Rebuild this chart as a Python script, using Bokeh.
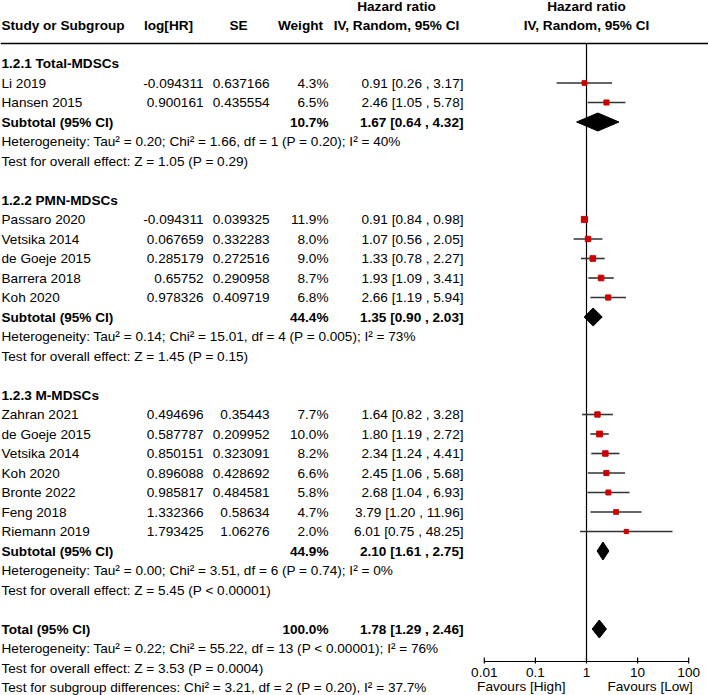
from bokeh.plotting import figure
from bokeh.models import Range1d, LogScale, ColumnDataSource
from bokeh.core.properties import value
from bokeh.embed import file_html
from bokeh.resources import INLINE

# ---------------- data ----------------
group_names = ["1.2.1 Total-MDSCs", "1.2.2 PMN-MDSCs", "1.2.3 M-MDSCs"]

g1_study = ["Li 2019", "Hansen 2015"]
g1_loghr = [-0.094311, 0.900161]
g1_se = [0.637166, 0.435554]
g1_weight = [4.3, 6.5]
g1_hr = [0.91, 2.46]
g1_lo = [0.26, 1.05]
g1_hi = [3.17, 5.78]

g2_study = ["Passaro 2020", "Vetsika 2014", "de Goeje 2015", "Barrera 2018", "Koh 2020"]
g2_loghr = [-0.094311, 0.067659, 0.285179, 0.65752, 0.978326]
g2_se = [0.039325, 0.332283, 0.272516, 0.290958, 0.409719]
g2_weight = [11.9, 8.0, 9.0, 8.7, 6.8]
g2_hr = [0.91, 1.07, 1.33, 1.93, 2.66]
g2_lo = [0.84, 0.56, 0.78, 1.09, 1.19]
g2_hi = [0.98, 2.05, 2.27, 3.41, 5.94]

g3_study = ["Zahran 2021", "de Goeje 2015", "Vetsika 2014", "Koh 2020",
            "Bronte 2022", "Feng 2018", "Riemann 2019"]
g3_loghr = [0.494696, 0.587787, 0.850151, 0.896088, 0.985817, 1.332366, 1.793425]
g3_se = [0.35443, 0.209952, 0.323091, 0.428692, 0.484581, 0.58634, 1.06276]
g3_weight = [7.7, 10.0, 8.2, 6.6, 5.8, 4.7, 2.0]
g3_hr = [1.64, 1.80, 2.34, 2.45, 2.68, 3.79, 6.01]
g3_lo = [0.82, 1.19, 1.24, 1.06, 1.04, 1.20, 0.75]
g3_hi = [3.28, 2.72, 4.41, 5.68, 6.93, 11.96, 48.25]

sub_weight = [10.7, 44.4, 44.9]
sub_hr = [1.67, 1.35, 2.10]
sub_lo = [0.64, 0.90, 1.61]
sub_hi = [4.32, 2.03, 2.75]
sub_het = [
    "Heterogeneity: Tau² = 0.20; Chi² = 1.66, df = 1 (P = 0.20); I² = 40%",
    "Heterogeneity: Tau² = 0.14; Chi² = 15.01, df = 4 (P = 0.005); I² = 73%",
    "Heterogeneity: Tau² = 0.00; Chi² = 3.51, df = 6 (P = 0.74); I² = 0%",
]
sub_test = [
    "Test for overall effect: Z = 1.05 (P = 0.29)",
    "Test for overall effect: Z = 1.45 (P = 0.15)",
    "Test for overall effect: Z = 5.45 (P < 0.00001)",
]

total_weight = 100.0
total_hr = 1.78
total_lo = 1.29
total_hi = 2.46
total_het = "Heterogeneity: Tau² = 0.22; Chi² = 55.22, df = 13 (P < 0.00001); I² = 76%"
total_test = "Test for overall effect: Z = 3.53 (P = 0.0004)"
subgroup_test = "Test for subgroup differences: Chi² = 3.21, df = 2 (P = 0.20), I² = 37.7%"

tick_vals = [0.01, 0.1, 1, 10, 100]
tick_labels = ["0.01", "0.1", "1", "10", "100"]
favours_labels = ["Favours [High]", "Favours [Low]"]

header_cols = ["Study or Subgroup", "log[HR]", "SE", "Weight", "IV, Random, 95% CI"]
header_top = "Hazard ratio"

# ---------------- layout constants (pixel units) ----------------
W, H = 708, 695
ROW0, PITCH = 63.0, 19.5
X_ONE, DECADE = 586.0, 51.1
X_NAME, X_LOG, X_SE, X_W, X_CI = 1, 203, 269, 328, 463
LINE_Y = 43
AXIS_Y = 661
FONT = value("Liberation Sans")
FS = value("13.6px")
RED = "#cc0000"
CI_COL = "#333333"


def ry(r):
    return ROW0 + PITCH * r


def ci_text(h, l, u):
    return f"{h:.2f} [{l:.2f} , {u:.2f}]"


groups = [
    (g1_study, g1_loghr, g1_se, g1_weight, g1_hr, g1_lo, g1_hi),
    (g2_study, g2_loghr, g2_se, g2_weight, g2_hr, g2_lo, g2_hi),
    (g3_study, g3_loghr, g3_se, g3_weight, g3_hr, g3_lo, g3_hi),
]

norm = dict(x=[], y=[], text=[], align=[])
bold = dict(x=[], y=[], text=[], align=[])
stud = dict(hr=[], lo=[], hi=[], y=[], size=[])
diam = dict(xs=[], ys=[])


def add(d, x, y, t, a):
    d["x"].append(x); d["y"].append(y); d["text"].append(t); d["align"].append(a)


def add_diamond(h, l, u, y):
    diam["xs"].append([l, h, u, h])
    diam["ys"].append([y, y - 9, y, y + 9])


r = 0
for gi, (st, lg, se, wt, hr, lo, hi) in enumerate(groups):
    add(bold, X_NAME, ry(r), group_names[gi], "left")
    r += 1
    for i in range(len(st)):
        y = ry(r)
        add(norm, X_NAME, y, st[i], "left")
        add(norm, X_LOG, y, str(lg[i]), "right")
        add(norm, X_SE, y, str(se[i]), "right")
        add(norm, X_W, y, f"{wt[i]:.1f}%", "right")
        add(norm, X_CI, y, ci_text(hr[i], lo[i], hi[i]), "right")
        stud["hr"].append(hr[i]); stud["lo"].append(lo[i]); stud["hi"].append(hi[i])
        stud["y"].append(y); stud["size"].append(3.8 + 0.2 * wt[i])
        r += 1
    y = ry(r)
    add(bold, X_NAME, y, "Subtotal (95% CI)", "left")
    add(bold, X_W, y, f"{sub_weight[gi]:.1f}%", "right")
    add(bold, X_CI, y, ci_text(sub_hr[gi], sub_lo[gi], sub_hi[gi]), "right")
    add_diamond(sub_hr[gi], sub_lo[gi], sub_hi[gi], y)
    r += 1
    add(norm, X_NAME, ry(r), sub_het[gi], "left"); r += 1
    add(norm, X_NAME, ry(r), sub_test[gi], "left"); r += 1
    r += 1

y = ry(r)
add(bold, X_NAME, y, "Total (95% CI)", "left")
add(bold, X_W, y, f"{total_weight:.1f}%", "right")
add(bold, X_CI, y, ci_text(total_hr, total_lo, total_hi), "right")
add_diamond(total_hr, total_lo, total_hi, y)
r += 1
add(norm, X_NAME, ry(r), total_het, "left"); r += 1
add(norm, X_NAME, ry(r), total_test, "left"); r += 1
add(norm, X_NAME, ry(r), subgroup_test, "left")

# headers
HY1, HY2 = 6, 25
add(bold, X_NAME, HY2, header_cols[0], "left")
add(bold, 168, HY2, header_cols[1], "center")
add(bold, 238, HY2, header_cols[2], "center")
add(bold, 300, HY2, header_cols[3], "center")
add(bold, 396, HY2, header_cols[4], "center")
add(bold, 396, HY1, header_top, "center")
add(bold, X_ONE, HY2, header_cols[4], "center")
add(bold, X_ONE, HY1, header_top, "center")

# favours labels
add(norm, 565, 686, favours_labels[0], "right")
add(norm, 607, 686, favours_labels[1], "left")

# ---------------- figure ----------------
p = figure(width=W, height=H, x_range=Range1d(0, W), y_range=Range1d(H, 0),
           output_backend="svg", toolbar_location=None,
           x_axis_location=None, y_axis_location=None,
           min_border=0, min_border_left=0, min_border_right=0,
           min_border_top=0, min_border_bottom=0)
p.outline_line_color = None
p.grid.visible = False
p.background_fill_color = "white"
p.border_fill_color = "white"

p.extra_x_ranges = {"hr": Range1d(10 ** ((0 - X_ONE) / DECADE), 10 ** ((W - X_ONE) / DECADE))}
p.extra_x_scales = {"hr": LogScale()}

# header rule
p.segment(x0=[0], x1=[W], y0=[LINE_Y], y1=[LINE_Y], line_color="black", line_width=1.5)

# line of no effect
p.segment(x0=[1], x1=[1], y0=[LINE_Y], y1=[AXIS_Y], x_range_name="hr",
          line_color="black", line_width=1.2)

# axis
p.segment(x0=[min(tick_vals)], x1=[max(tick_vals)], y0=[AXIS_Y], y1=[AXIS_Y],
          x_range_name="hr", line_color="black", line_width=1.2)
p.segment(x0=tick_vals, x1=tick_vals, y0=[AXIS_Y - 4] * len(tick_vals),
          y1=[AXIS_Y + 2] * len(tick_vals), x_range_name="hr", line_color="black", line_width=1.2)
p.text(x=tick_vals, y=[672] * len(tick_vals), text=tick_labels, x_range_name="hr",
       text_font=FONT, text_font_size=FS, text_align="center", text_baseline="middle",
       text_color="black")

# CIs and squares
ssrc = ColumnDataSource(stud)
p.segment(x0="lo", x1="hi", y0="y", y1="y", source=ssrc, x_range_name="hr",
          line_color=CI_COL, line_width=1.6)
p.scatter(x="hr", y="y", size="size", marker="square", source=ssrc, x_range_name="hr",
          fill_color=RED, line_color=RED)

# diamonds
p.patches(xs="xs", ys="ys", source=ColumnDataSource(diam), x_range_name="hr",
          fill_color="black", line_color="black")

# texts
p.text(x="x", y="y", text="text", text_align="align", source=ColumnDataSource(norm),
       text_font=FONT, text_font_size=FS, text_baseline="middle", text_color="black")
p.text(x="x", y="y", text="text", text_align="align", source=ColumnDataSource(bold),
       text_font=FONT, text_font_size=FS, text_font_style="bold", text_baseline="middle",
       text_color="black")

open("out.html", "w").write(file_html(p, INLINE))
